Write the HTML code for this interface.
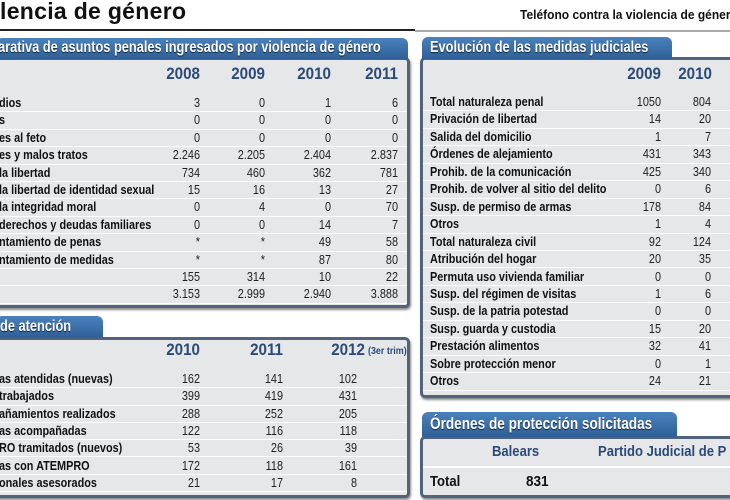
<!DOCTYPE html>
<html><head><meta charset="utf-8"><style>
*{margin:0;padding:0;box-sizing:border-box}
body{width:730px;height:500px;overflow:hidden;background:#fff;position:relative;font-family:"Liberation Sans",sans-serif;color:#111}
.a{position:absolute}
.title{left:0;top:-2px;font:bold 23px "Liberation Sans",sans-serif;letter-spacing:0.3px;color:#111}
.tel{left:520px;top:8px;font-weight:bold;font-size:12.5px;white-space:nowrap;transform:scaleX(0.96);transform-origin:0 0}
.tab{background:linear-gradient(#4a82bd,#2f5f96);border-radius:6px 6px 0 0;}
.tt{position:absolute;color:#fff;font-weight:bold;font-size:16px;white-space:nowrap;text-shadow:0 1px 1px #123;transform:scaleX(0.8);transform-origin:0 0}
.box{background:#e6e7e9;border:3px solid #51647c;border-radius:5px;box-shadow:1px 2px 2px #888}
.row{position:absolute;border-bottom:1.5px solid #fff;font-size:12.5px;white-space:nowrap}
.lb{position:absolute;font-weight:bold;top:1px;transform:scaleX(0.87);transform-origin:0 0}
.v{position:absolute;width:60px;text-align:right;top:1px;color:#222;transform:scaleX(0.87);transform-origin:100% 0}
.yr{position:absolute;font-weight:bold;font-size:16.5px;color:#2c4a78;width:70px;text-align:right;transform:scaleX(0.92);transform-origin:100% 0}
</style></head><body>
<div class="a title">lencia de género</div>
<div class="a tel">Teléfono contra la violencia de géner</div>
<div class="a" style="left:0;top:29px;width:415px;height:2px;background:#222"></div>
<div class="a" style="left:415px;top:30px;width:315px;height:2px;background:#aaa"></div>

<div class="a box" style="left:-10px;top:57px;width:420px;height:251px"></div>
<div class="a tab" style="left:-4px;top:38px;width:412px;height:21px"></div>
<div class="tt" style="left:-2px;top:39px">arativa de asuntos penales ingresados por violencia de género</div>
<div class="yr" style="left:130px;top:65px">2008</div>
<div class="yr" style="left:195px;top:65px">2009</div>
<div class="yr" style="left:261px;top:65px">2010</div>
<div class="yr" style="left:328px;top:65px">2011</div>
<div id="L1"></div>

<div class="a box" style="left:-10px;top:337px;width:420px;height:161px"></div>
<div class="a tab" style="left:-4px;top:316px;width:107px;height:22px"></div>
<div class="tt" style="left:0px;top:318px">de atención</div>
<div class="yr" style="left:130px;top:341px">2010</div>
<div class="yr" style="left:213px;top:341px">2011</div>
<div class="yr" style="left:295px;top:341px">2012</div>
<div class="a" style="left:368px;top:345px;font-size:10.5px;font-weight:bold;color:#2c4a78;transform:scaleX(0.85);transform-origin:0 0;white-space:nowrap">(3er trim)</div>
<div id="L2"></div>

<div class="a box" style="left:420px;top:57px;width:320px;height:341px"></div>
<div class="a tab" style="left:422px;top:37px;width:250px;height:22px"></div>
<div class="tt" style="left:430px;top:39px">Evolución de las medidas judiciales</div>
<div class="yr" style="left:591px;top:65px">2009</div>
<div class="yr" style="left:642px;top:65px">2010</div>
<div id="R1"></div>

<div class="a box" style="left:420px;top:436px;width:320px;height:62px"></div>
<div class="a tab" style="left:422px;top:412px;width:255px;height:25px"></div>
<div class="tt" style="left:430px;top:414px;font-size:17px">Órdenes de protección solicitadas</div>
<div class="a" style="left:423px;top:466px;width:317px;height:2px;background:#fff"></div>
<div class="a" style="left:492px;top:443px;font-weight:bold;font-size:15px;color:#2c4a78;transform:scaleX(0.87);transform-origin:0 0">Balears</div>
<div class="a" style="left:598px;top:443px;font-weight:bold;font-size:15px;color:#2c4a78;white-space:nowrap;transform:scaleX(0.87);transform-origin:0 0">Partido Judicial de P</div>
<div class="a" style="left:430px;top:473px;font-weight:bold;font-size:15px;transform:scaleX(0.87);transform-origin:0 0">Total</div>
<div class="a" style="left:526px;top:473px;font-weight:bold;font-size:15px;transform:scaleX(0.9);transform-origin:0 0">831</div>

<script>
function build(id,x0,w,top,step,lx,cols,rows){
 var h='';
 rows.forEach(function(r,i){
  var t=top+step*i;
  h+='<div class="row" style="left:'+x0+'px;width:'+w+'px;top:'+t+'px;height:'+step+'px">';
  h+='<span class="lb" style="left:'+(lx-x0)+'px">'+r[0]+'</span>';
  for(var j=1;j<r.length;j++) h+='<span class="v" style="left:'+(cols[j-1]-60-x0)+'px">'+r[j]+'</span>';
  h+='</div>';
 });
 document.getElementById(id).outerHTML=h;
}
build('L1',-7,414,95,17.4,-1,[200,265,331,398],[
['dios','3','0','1','6'],['s','0','0','0','0'],['es al feto','0','0','0','0'],
['es y malos tratos','2.246','2.205','2.404','2.837'],['la libertad','734','460','362','781'],
['la libertad de identidad sexual','15','16','13','27'],['la integridad moral','0','4','0','70'],
['derechos y deudas familiares','0','0','14','7'],['ntamiento de penas','*','*','49','58'],
['ntamiento de medidas','*','*','87','80'],['','155','314','10','22'],['','3.153','2.999','2.940','3.888']]);
build('L2',-7,414,371,17.3,-1,[200,283,357],[
['as atendidas (nuevas)','162','141','102'],['trabajados','399','419','431'],
['añamientos realizados','288','252','205'],['as acompañadas','122','116','118'],
['RO tramitados (nuevos)','53','26','39'],['as con ATEMPRO','172','118','161'],
['onales asesorados','21','17','8']]);
build('R1',423,317,94,17.45,430,[661,711],[
['Total naturaleza penal','1050','804'],['Privación de libertad','14','20'],['Salida del domicilio','1','7'],
['Órdenes de alejamiento','431','343'],['Prohib. de la comunicación','425','340'],
['Prohib. de volver al sitio del delito','0','6'],['Susp. de permiso de armas','178','84'],['Otros','1','4'],
['Total naturaleza civil','92','124'],['Atribución del hogar','20','35'],['Permuta uso vivienda familiar','0','0'],
['Susp. del régimen de visitas','1','6'],['Susp. de la patria potestad','0','0'],['Susp. guarda y custodia','15','20'],
['Prestación alimentos','32','41'],['Sobre protección menor','0','1'],['Otros','24','21']]);
</script>
</body></html>
